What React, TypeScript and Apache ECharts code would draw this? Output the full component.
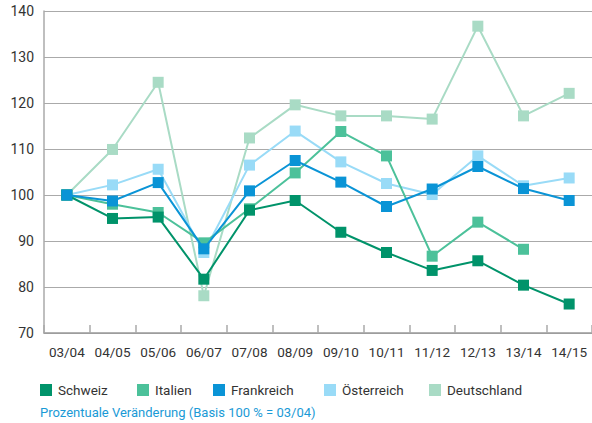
import React, { useEffect, useRef } from "react";
import * as echarts from "echarts";

const categories = ["03/04", "04/05", "05/06", "06/07", "07/08", "08/09", "09/10", "10/11", "11/12", "12/13", "13/14", "14/15"];
const schweiz = [100, 94.9, 95.2, 81.7, 96.7, 98.8, 91.9, 87.5, 83.6, 85.7, 80.4, 76.3];
const italien = [100, 98.0, 96.2, 89.6, 97.0, 104.8, 113.8, 108.5, 86.7, 94.1, 88.2, null];
const frankreich = [100, 98.7, 102.7, 88.3, 100.9, 107.5, 102.8, 97.5, 101.3, 106.2, 101.4, 98.8];
const oesterreich = [100, 102.2, 105.6, 87.5, 106.5, 113.9, 107.2, 102.5, 100.1, 108.5, 102.0, 103.7];
const deutschland = [100, 109.9, 124.5, 78.1, 112.4, 119.6, 117.2, 117.2, 116.5, 136.7, 117.2, 122.1];
const yTicks = [70, 140, 10];
const caption = "Prozentuale Veränderung (Basis 100 % = 03/04)";

const seriesDefs = [
  { name: "Deutschland", data: deutschland, color: "#a9dbc5", z: 2 },
  { name: "Österreich", data: oesterreich, color: "#99dbf7", z: 3 },
  { name: "Italien", data: italien, color: "#4cc19a", z: 4 },
  { name: "Schweiz", data: schweiz, color: "#00936a", z: 5 },
  { name: "Frankreich", data: frankreich, color: "#0a94d6", z: 6 },
];
const legendOrder = ["Schweiz", "Italien", "Frankreich", "Österreich", "Deutschland"];
const legendLefts = [40, 137, 213, 324, 429];

const FONT = "Roboto";

export default function App() {
  const ref = useRef<HTMLDivElement>(null);
  useEffect(() => {
    if (!ref.current) return;
    const chart = echarts.init(ref.current, null, { renderer: "svg" });
    chart.setOption({
      animation: false,
      textStyle: { fontFamily: FONT },
      grid: { left: 44, top: 11, right: -2, bottom: 90 },
      legend: legendOrder.map((n, i) => ({
        data: [n],
        left: legendLefts[i],
        top: 383,
        icon: "rect",
        itemWidth: 12,
        itemHeight: 12,
        itemGap: 6,
        padding: 0,
        textStyle: { color: "#333", fontSize: 13.5, fontFamily: FONT, padding: [0, 0, 0, 1] },
        selectedMode: false,
      })),
      graphic: [
        {
          type: "text",
          left: 40,
          top: 406,
          style: { text: caption, fill: "#1a9ad6", fontSize: 13, fontFamily: FONT },
        },
      ],
      xAxis: {
        type: "category",
        data: categories,
        boundaryGap: true,
        axisLine: { show: true, lineStyle: { color: "#999", width: 1.5 } },
        axisTick: { show: true, inside: true, length: 8, interval: 0, lineStyle: { color: "#aaa", width: 1.5 } },
        axisLabel: { color: "#333", fontSize: 13.5, margin: 12, interval: 0, fontFamily: FONT },
        splitLine: { show: false },
      },
      yAxis: {
        type: "value",
        min: yTicks[0],
        max: yTicks[1],
        interval: yTicks[2],
        axisLine: { show: true, lineStyle: { color: "#aaa", width: 1.5 } },
        axisTick: { show: false },
        axisLabel: { color: "#333", fontSize: 14, margin: 10, fontFamily: FONT },
        splitLine: { show: true, lineStyle: { color: "#aaa", width: 1 } },
      },
      series: seriesDefs.map((s) => ({
        name: s.name,
        type: "line",
        data: s.data,
        z: s.z,
        symbol: "rect",
        symbolSize: 11,
        showSymbol: true,
        connectNulls: false,
        itemStyle: { color: s.color },
        lineStyle: { color: s.color, width: 2 },
      })),
    });
    return () => chart.dispose();
  }, []);
  return <div ref={ref} style={{ position: "absolute", left: 0, top: 0, width: 592, height: 423 }} />;
}
